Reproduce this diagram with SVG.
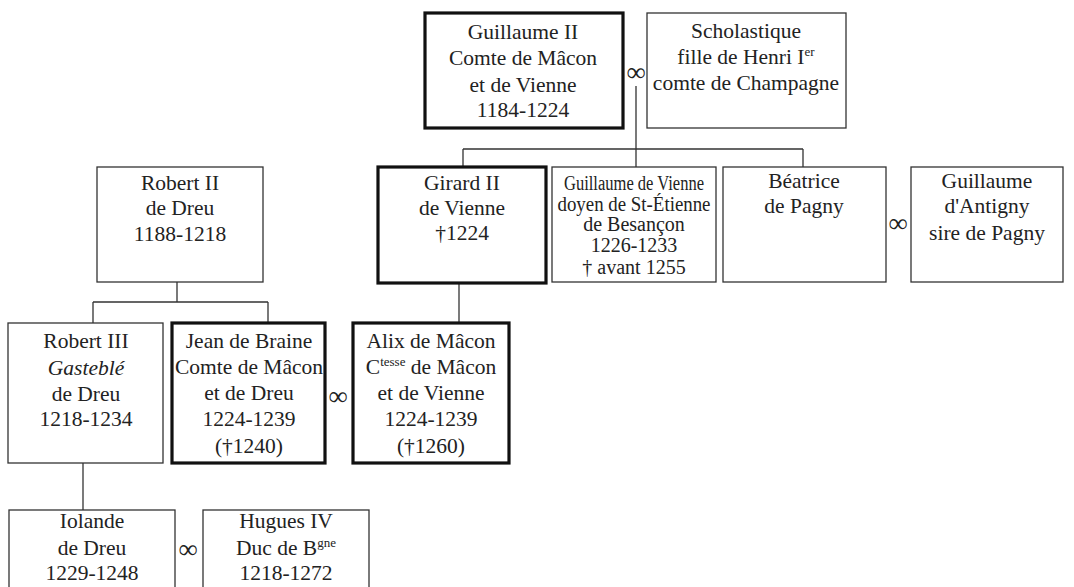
<svg xmlns="http://www.w3.org/2000/svg" width="1074" height="587" viewBox="0 0 1074 587">
<style>
.b{fill:#fff;stroke:#333;stroke-width:1.3}
.t{fill:#fff;stroke:#111;stroke-width:3.2}
text{font-family:"Liberation Serif","Times New Roman",serif;font-size:21.5px;fill:#222;text-anchor:middle}
.sm{font-size:20px}
.sup{font-size:13px}
.inf{font-size:27px}
.c{fill:none;stroke:#333;stroke-width:1.3}
</style>
<rect width="1074" height="587" fill="#fff"/>
<g id="connectors" class="c">
<path d="M636 86V167M463 149H803M463 149V167M803 149V167"/>
<path d="M177 282V302M93 302H268M93 302V323M268 302V323"/>
<path d="M459 283V323"/>
<path d="M83 463V510"/>
</g>
<g id="guillaume2">
<rect class="t" x="425" y="13" width="198" height="115"/>
<text x="523" y="39">Guillaume II</text>
<text x="523" y="65">Comte de Mâcon</text>
<text x="523" y="92">et de Vienne</text>
<text x="523" y="117">1184-1224</text>
</g>
<g id="m1"><text class="inf" x="636" y="81">∞</text></g>
<g id="scholastique">
<rect class="b" x="647" y="13" width="199" height="115"/>
<text x="746" y="38">Scholastique</text>
<text x="746" y="64">fille de Henri I<tspan class="sup" dy="-8">er</tspan></text>
<text x="746" y="90">comte de Champagne</text>
</g>
<g id="robert2">
<rect class="b" x="97" y="167" width="166" height="115"/>
<text x="180" y="190">Robert II</text>
<text x="180" y="215">de Dreu</text>
<text x="180" y="241">1188-1218</text>
</g>
<g id="girard2">
<rect class="t" x="378" y="167" width="168" height="116"/>
<text x="462" y="190">Girard II</text>
<text x="462" y="215">de Vienne</text>
<text x="462" y="240">†1224</text>
</g>
<g id="guillaumevienne">
<rect class="b" x="552" y="167" width="164" height="115"/>
<text class="sm" x="634" y="190" textLength="140" lengthAdjust="spacingAndGlyphs">Guillaume de Vienne</text>
<text class="sm" x="634" y="211" textLength="153" lengthAdjust="spacingAndGlyphs">doyen de St-Étienne</text>
<text class="sm" x="634" y="231">de Besançon</text>
<text class="sm" x="634" y="252">1226-1233</text>
<text class="sm" x="634" y="274">† avant 1255</text>
</g>
<g id="beatrice">
<rect class="b" x="723" y="167" width="163" height="115"/>
<text x="804" y="188">Béatrice</text>
<text x="804" y="213">de Pagny</text>
</g>
<g id="m2"><text class="inf" x="898" y="232">∞</text></g>
<g id="antigny">
<rect class="b" x="911" y="167" width="152" height="115"/>
<text x="987" y="188">Guillaume</text>
<text x="987" y="213">d'Antigny</text>
<text x="987" y="240">sire de Pagny</text>
</g>
<g id="robert3">
<rect class="b" x="8" y="323" width="155" height="140"/>
<text x="86" y="348">Robert III</text>
<text x="86" y="375" font-style="italic">Gasteblé</text>
<text x="86" y="401">de Dreu</text>
<text x="86" y="426">1218-1234</text>
</g>
<g id="jean">
<rect class="t" x="172" y="323" width="153" height="140"/>
<text x="249" y="348">Jean de Braine</text>
<text x="249" y="374">Comte de Mâcon</text>
<text x="249" y="400">et de Dreu</text>
<text x="249" y="426">1224-1239</text>
<text x="249" y="453">(†1240)</text>
</g>
<g id="m3"><text class="inf" x="338" y="405">∞</text></g>
<g id="alix">
<rect class="t" x="353" y="323" width="156" height="140"/>
<text x="431" y="348">Alix de Mâcon</text>
<text x="431" y="374">C<tspan class="sup" dy="-8">tesse</tspan><tspan dy="8"> de Mâcon</tspan></text>
<text x="431" y="400">et de Vienne</text>
<text x="431" y="426">1224-1239</text>
<text x="431" y="453">(†1260)</text>
</g>
<g id="iolande">
<rect class="b" x="9" y="510" width="166" height="90"/>
<text x="92" y="528">Iolande</text>
<text x="92" y="555">de Dreu</text>
<text x="92" y="580">1229-1248</text>
</g>
<g id="m4"><text class="inf" x="188" y="558">∞</text></g>
<g id="hugues">
<rect class="b" x="203" y="510" width="166" height="90"/>
<text x="286" y="528">Hugues IV</text>
<text x="286" y="555">Duc de B<tspan class="sup" dy="-8">gne</tspan></text>
<text x="286" y="580">1218-1272</text>
</g>
</svg>
